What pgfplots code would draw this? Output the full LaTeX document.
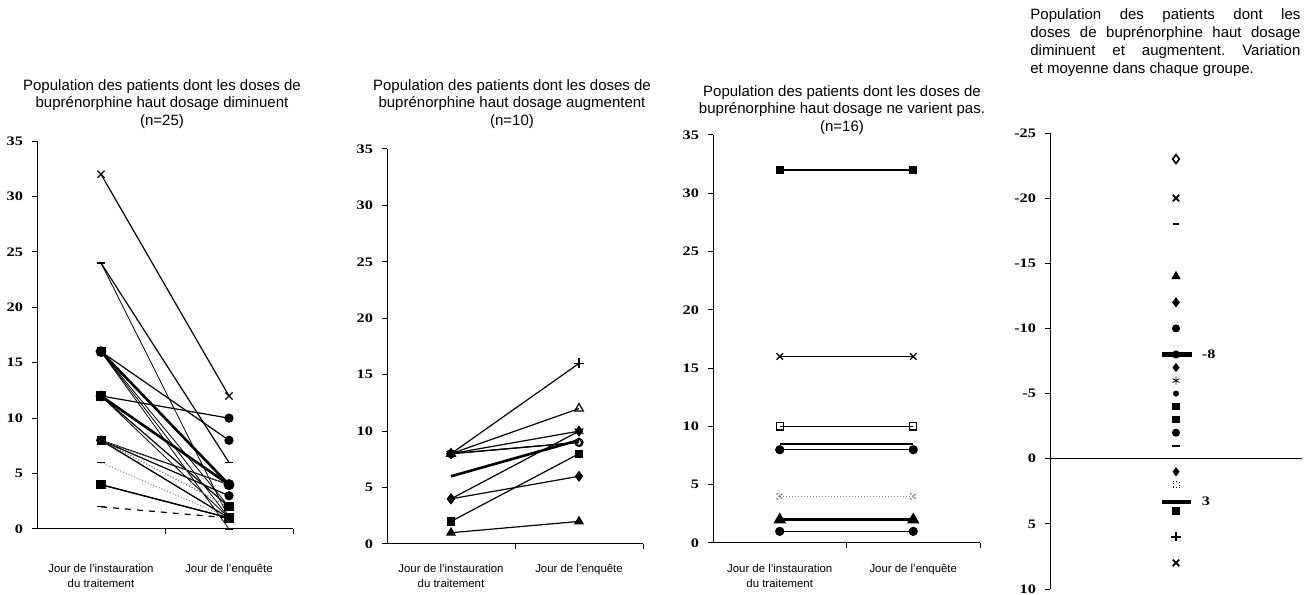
\documentclass[border=0pt]{standalone}
\usepackage{fontspec}
\setmainfont{Liberation Sans}
\newfontfamily\tickfont[FakeStretch=1.25]{Liberation Serif}
\usepackage{pgfplots}
\pgfplotsset{compat=1.18}
\frenchspacing
\pgfplotsset{
  panel/.style={scale only axis, anchor=south west, clip=false,
    xmin=0, xmax=2, ymin=0, ymax=35,
    axis x line=bottom, axis y line=left,
    axis line style={-, line width=0.5pt},
    xtick={1,2}, xticklabels={},
    ytick={0,5,...,35},
    tick align=outside, major tick length=2.5pt,
    tick style={black, line width=0.5pt},
    /pgf/number format/assume math mode=true,
    yticklabel style={font=\tickfont\bfseries\fontsize{6.5}{7}\selectfont, xshift=-1pt},
  },
}
\tikzset{
  nl/.style={black, line width=0.6pt, mark size=2pt, mark options={solid, fill=black}},
  tl/.style={black, line width=1.3pt, mark size=2pt, mark options={solid, fill=black}},
  dl/.style={gray, line width=0.5pt, densely dotted, mark size=2pt, mark options={solid, fill=black, draw=black}},
  thl/.style={black, line width=0.4pt, mark size=2pt, mark options={solid, fill=black}},
  cat/.style={font=\fontsize{5.7}{7.5}\selectfont, align=center, anchor=north, inner sep=0pt},
  ttl/.style={font=\fontsize{7.5}{8.6}\selectfont, align=center, inner sep=0pt},
}
\begin{document}
\begin{tikzpicture}
\path[use as bounding box] (0,0) rectangle (654pt,297.5pt);

% ---------- Panel 1 ----------
\begin{axis}[panel, at={(18.5pt,33pt)}, width=128pt, height=194pt]
\addplot[nl, mark=x, mark size=2.5pt] coordinates {(0.5,32) (1.5,12)};
\addplot[nl, mark=-] coordinates {(0.5,24) (1.5,6)};
\addplot[thl, mark=-] coordinates {(0.5,24) (1.5,1)};
\addplot[nl, mark=*] coordinates {(0.5,16) (1.5,8)};
\addplot[tl, mark=*] coordinates {(0.5,16) (1.5,4)};
\addplot[thl, mark=square*] coordinates {(0.5,16) (1.5,2)};
\addplot[thl, mark=*] coordinates {(0.5,16) (1.5,1)};
\addplot[thl, mark=-] coordinates {(0.5,16) (1.5,0)};
\addplot[nl, mark=*] coordinates {(0.5,12) (1.5,10)};
\addplot[tl, mark=*] coordinates {(0.5,12) (1.5,4)};
\addplot[nl, mark=*] coordinates {(0.5,12) (1.5,4)};
\addplot[nl, mark=square*] coordinates {(0.5,12) (1.5,2)};
\addplot[thl, mark=*] coordinates {(0.5,12) (1.5,1)};
\addplot[nl, mark=x, mark size=2.5pt] coordinates {(0.5,8) (1.5,4)};
\addplot[nl, mark=*] coordinates {(0.5,8) (1.5,3)};
\addplot[dl, mark=square*] coordinates {(0.5,8) (1.5,2)};
\addplot[dl, mark=square*] coordinates {(0.5,8) (1.5,2)};
\addplot[nl, mark=x, mark size=2.5pt] coordinates {(0.5,8) (1.5,1)};
\addplot[dl, mark=*] coordinates {(0.5,8) (1.5,1)};
\addplot[thl, mark=*] coordinates {(0.5,8) (1.5,1)};
\addplot[dl, mark=*] coordinates {(0.5,8) (1.5,4)};
\addplot[dl, mark=-] coordinates {(0.5,6) (1.5,1)};
\addplot[nl, mark=x, mark size=2.5pt] coordinates {(0.5,4) (1.5,1)};
\addplot[nl, mark=square*] coordinates {(0.5,4) (1.5,1)};
\addplot[nl, dashed, mark=-] coordinates {(0.5,2) (1.5,1)};
\node[cat] at (axis cs:0.5,0) [yshift=-17.5pt] {Jour de l'instauration\\du traitement};
\node[cat] at (axis cs:1.5,0) [yshift=-17.5pt] {Jour de l'enquête};
\end{axis}

% ---------- Panel 2 ----------
\begin{axis}[panel, at={(193.5pt,25.5pt)}, width=128pt, height=197.5pt]
\addplot[nl, mark=+, mark size=2.5pt] coordinates {(0.5,8) (1.5,16)};
\addplot[nl, mark=triangle, mark options={fill=white}, mark size=2.5pt] coordinates {(0.5,8) (1.5,12)};
\addplot[nl, mark=asterisk, mark size=2.5pt] coordinates {(0.5,8) (1.5,10)};
\addplot[nl, mark=o, mark options={fill=white}] coordinates {(0.5,8) (1.5,9)};
\addplot[nl, mark=diamond, mark options={fill=white}] coordinates {(0.5,8) (1.5,9)};
\addplot[tl] coordinates {(0.5,6) (1.5,9.2)};
\addplot[nl, mark=diamond*, mark size=2.3pt] coordinates {(0.5,4) (1.5,10)};
\addplot[nl, mark=diamond*, mark size=2.3pt] coordinates {(0.5,4) (1.5,6)};
\addplot[nl, mark=square*, mark size=1.8pt] coordinates {(0.5,2) (1.5,8)};
\addplot[nl, mark=triangle*, mark size=2.3pt] coordinates {(0.5,1) (1.5,2)};
\node[cat] at (axis cs:0.5,0) [yshift=-10pt] {Jour de l'instauration\\du traitement};
\node[cat] at (axis cs:1.5,0) [yshift=-10pt] {Jour de l'enquête};
\end{axis}

% ---------- Panel 3 ----------
\begin{axis}[panel, at={(356.5pt,26pt)}, width=133.5pt, height=204pt]
\addplot[nl, mark=square*, mark size=1.8pt] coordinates {(0.5,32) (1.5,32)};
\addplot[nl, mark=x, mark size=2.3pt] coordinates {(0.5,16) (1.5,16)};
\addplot[nl, mark=square, mark options={fill=white}, mark size=1.8pt] coordinates {(0.5,10) (1.5,10)};
\addplot[tl] coordinates {(0.5,8.5) (1.5,8.5)};
\addplot[dl, mark=asterisk] coordinates {(0.5,8) (1.5,8)};
\addplot[nl, mark=*] coordinates {(0.5,8) (1.5,8)};
\addplot[dl, mark=x, mark options={line width=1pt}] coordinates {(0.5,4) (1.5,4)};
\addplot[tl, mark=triangle*, mark size=2.3pt] coordinates {(0.5,2) (1.5,2)};
\addplot[nl, mark=*] coordinates {(0.5,1) (1.5,1)};
\node[cat] at (axis cs:0.5,0) [yshift=-10.5pt] {Jour de l'instauration\\du traitement};
\node[cat] at (axis cs:1.5,0) [yshift=-10.5pt] {Jour de l'enquête};
\end{axis}

% ---------- Panel 4 ----------
\begin{axis}[scale only axis, anchor=south west, clip=false,
  at={(525pt,3pt)}, width=126pt, height=228pt,
  xmin=0, xmax=2, ymin=-25, ymax=10, y dir=reverse,
  axis x line=middle, axis y line=left,
  axis line style={-, line width=0.5pt},
  xtick=\empty,
  ytick={-25,-20,-15,-10,-5,0,5,10},
  yticklabels={-25,-20,-15,-10,-5,0,5,10},
  tick align=outside, major tick length=2.5pt,
  tick style={black, line width=0.5pt},
  yticklabel style={font=\tickfont\bfseries\fontsize{6.5}{7}\selectfont, xshift=-1pt},
]
\addplot[only marks, mark=diamond, mark size=2.2pt, mark options={line width=0.8pt}] coordinates {(1,-23)};
\addplot[only marks, mark=x, mark size=2.3pt, mark options={line width=0.9pt}] coordinates {(1,-20)};
\addplot[only marks, mark=-, mark size=1.5pt, mark options={line width=0.9pt}] coordinates {(1,-18)};
\addplot[only marks, mark=triangle*, mark size=2.3pt] coordinates {(1,-14)};
\addplot[only marks, mark=diamond*, mark size=2.2pt] coordinates {(1,-12)};
\addplot[only marks, mark=*, mark size=1.8pt] coordinates {(1,-10)};
\addplot[only marks, mark=*, mark size=1.8pt] coordinates {(1,-8)};
\addplot[only marks, mark=diamond*, mark size=2pt] coordinates {(1,-7)};
\addplot[only marks, mark=asterisk, mark size=2pt] coordinates {(1,-6)};
\addplot[only marks, mark=*, mark size=1.3pt] coordinates {(1,-5)};
\addplot[only marks, mark=square*, mark size=1.6pt] coordinates {(1,-4)};
\addplot[only marks, mark=square*, mark size=1.6pt] coordinates {(1,-3)};
\addplot[only marks, mark=*, mark size=1.8pt] coordinates {(1,-2)};
\addplot[only marks, mark=-, mark size=2pt, mark options={line width=0.9pt}] coordinates {(1,-1)};
\addplot[only marks, mark=diamond*, mark size=2pt] coordinates {(1,1)};
\addplot[only marks, mark=square, mark size=1.5pt, mark options={densely dotted}] coordinates {(1,2)};
\addplot[only marks, mark=square*, mark size=1.6pt] coordinates {(1,4)};
\addplot[only marks, mark=+, mark size=2.3pt, mark options={line width=0.9pt}] coordinates {(1,6)};
\addplot[only marks, mark=x, mark size=2.3pt, mark options={line width=0.9pt}] coordinates {(1,8)};
\addplot[black, line width=2.2pt] coordinates {(0.89,-8) (1.13,-8)};
\addplot[black, line width=2.2pt] coordinates {(0.89,3.3) (1.12,3.3)};
\node[anchor=west, font=\tickfont\bfseries\fontsize{6.5}{7}\selectfont] at (axis cs:1.15,-8) {-8};
\node[anchor=west, font=\tickfont\bfseries\fontsize{6.5}{7}\selectfont] at (axis cs:1.15,3.3) {3};
\end{axis}

% ---------- Titles ----------
\node[ttl] at (81pt,245.5pt) {Population des patients dont les doses de\\buprénorphine haut dosage diminuent\\(n=25)};
\node[ttl] at (256pt,245.5pt) {Population des patients dont les doses de\\buprénorphine haut dosage augmentent\\(n=10)};
\node[ttl] at (421pt,242.5pt) {Population des patients dont les doses de\\buprénorphine haut dosage ne varient pas.\\(n=16)};
\node[font=\fontsize{7.5}{9}\selectfont, text width=135pt, align=justify, inner sep=0pt, anchor=north west] at (515pt,293.5pt) {Population des patients dont les\linebreak doses de buprénorphine haut dosage\linebreak diminuent et augmentent. Variation\linebreak et moyenne dans chaque groupe.};
\end{tikzpicture}
\end{document}
